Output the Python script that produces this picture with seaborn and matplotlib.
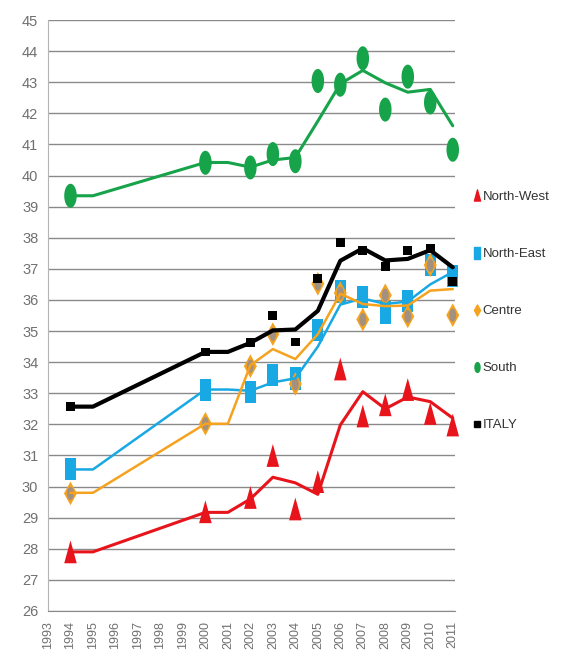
import numpy as np
import pandas as pd
import matplotlib
matplotlib.use("Agg")
import matplotlib.pyplot as plt
import seaborn as sns
from matplotlib.path import Path
from matplotlib.lines import Line2D

# survey years with a value (no data 1995-1999 and 2001)
YEARS = [1994, 2000, 2002, 2003, 2004, 2005, 2006, 2007, 2008, 2009, 2010, 2011]
north_west = [27.9, 29.19, 29.65, 31.0, 29.28, 30.16, 33.78, 32.27, 32.63, 33.12, 32.35, 31.98]
north_east = [30.57, 33.1, 33.05, 33.58, 33.48, 35.03, 36.27, 36.1, 35.6, 35.97, 37.12, 36.77]
centre = [29.78, 32.02, 33.87, 34.9, 33.3, 36.52, 36.22, 35.37, 36.15, 35.47, 37.12, 35.51]
south = [39.35, 40.41, 40.26, 40.69, 40.46, 43.04, 42.92, 43.77, 42.12, 43.18, 42.35, 40.83]
italy = [32.57, 34.33, 34.63, 35.5, 34.65, 36.68, 37.84, 37.58, 37.08, 37.59, 37.66, 36.59]

# moving-average trend lines as drawn in the chart
TREND_YEARS = [1994, 1995, 2000, 2001, 2002, 2003, 2004, 2005, 2006, 2007, 2008, 2009, 2010, 2011]
north_west_trend = [27.9, 27.9, 29.17, 29.17, 29.6, 30.3, 30.12, 29.75, 31.98, 33.05, 32.5, 32.88, 32.73, 32.2]
north_east_trend = [30.55, 30.55, 33.12, 33.12, 33.08, 33.35, 33.48, 34.5, 35.85, 36.05, 35.87, 35.95, 36.5, 36.9]
centre_trend = [29.8, 29.8, 32.02, 32.02, 33.9, 34.42, 34.1, 34.9, 36.2, 35.87, 35.8, 35.82, 36.3, 36.35]
south_trend = [39.35, 39.35, 40.42, 40.42, 40.27, 40.5, 40.58, 41.75, 42.95, 43.38, 42.98, 42.68, 42.77, 41.6]
italy_trend = [32.57, 32.57, 34.33, 34.33, 34.62, 35.02, 35.05, 35.65, 37.26, 37.66, 37.27, 37.32, 37.6, 37.05]

REGIONS = ["North-West", "North-East", "Centre", "South", "ITALY"]
COLORS = {"North-West": "#e8141c", "North-East": "#18a8e4", "Centre": "#f5a21e",
          "South": "#16a349", "ITALY": "#000000"}
LINE_W = {"North-West": 2.2, "North-East": 1.8, "Centre": 1.8, "South": 2.2, "ITALY": 3.0}

points = pd.DataFrame({"year": YEARS * 5,
                       "value": north_west + north_east + centre + south + italy,
                       "region": np.repeat(REGIONS, len(YEARS))})
trends = pd.DataFrame({"year": TREND_YEARS * 5,
                       "value": north_west_trend + north_east_trend + centre_trend
                       + south_trend + italy_trend,
                       "region": np.repeat(REGIONS, len(TREND_YEARS))})

# tall, stretched markers like the original export
t = np.linspace(0, 2 * np.pi, 40)
ELLIPSE = Path(np.column_stack([0.52 * np.cos(t), np.sin(t)]), closed=True)
RECT = Path([(-0.5, -1), (0.5, -1), (0.5, 1), (-0.5, 1), (-0.5, -1)], closed=True)
TRI = Path([(-0.55, -1), (0.55, -1), (0, 1), (-0.55, -1)], closed=True)
DIAMOND = Path([(0, -1), (0.55, 0), (0, 1), (-0.55, 0), (0, -1)], closed=True)
MARKERS = {"North-West": (TRI, 270), "North-East": (RECT, 260), "Centre": (DIAMOND, 290),
           "South": (ELLIPSE, 300), "ITALY": ("s", 40)}

sns.set_style("white")
plt.rcParams["font.family"] = ["Liberation Sans", "DejaVu Sans"]

fig, ax = plt.subplots(figsize=(5.62, 6.70), dpi=100)
fig.subplots_adjust(left=0.0854, right=0.8096, bottom=0.0881, top=0.9701)

for reg in REGIONS:
    mk, size = MARKERS[reg]
    sub = points[points["region"] == reg]
    sns.scatterplot(data=sub, x="year", y="value", marker=mk, s=size,
                    color=COLORS[reg], edgecolor="none", linewidth=0,
                    ax=ax, zorder=3, clip_on=False, legend=False)
    if reg == "Centre":
        sns.scatterplot(data=sub, x="year", y="value", marker=ELLIPSE, s=90,
                        color="#8e8c9a", edgecolor="none", linewidth=0, alpha=0.8,
                        ax=ax, zorder=3, clip_on=False, legend=False)

for reg in REGIONS:
    sns.lineplot(data=trends[trends["region"] == reg], x="year", y="value",
                 color=COLORS[reg], linewidth=LINE_W[reg], ax=ax, zorder=4,
                 legend=False)

ax.set_xlim(1993, 2011.1)
ax.set_ylim(26, 45)
ax.set_xticks(range(1993, 2012))
ax.set_xticklabels([str(y) for y in range(1993, 2012)], rotation=90,
                   fontsize=9, color="#707070")
ax.set_yticks(range(26, 46))
ax.set_yticklabels([str(v) for v in range(26, 46)], fontsize=10.5, color="#707070")
ax.tick_params(axis="both", length=4, width=0.8, color="#a0a0a0", pad=3)
ax.set_xlabel("")
ax.set_ylabel("")

ax.yaxis.grid(True, color="#8a8a8a", linewidth=1.0)
ax.xaxis.grid(False)
ax.set_axisbelow(True)
for side in ["top", "right"]:
    ax.spines[side].set_visible(False)
ax.spines["left"].set_color("#b4b4b4")
ax.spines["bottom"].set_color("#8a8a8a")

handles = [
    Line2D([], [], linestyle="none", marker=TRI, markersize=8, color=COLORS["North-West"]),
    Line2D([], [], linestyle="none", marker=RECT, markersize=8, color=COLORS["North-East"]),
    Line2D([], [], linestyle="none", marker=DIAMOND, markersize=8, color=COLORS["Centre"]),
    Line2D([], [], linestyle="none", marker=ELLIPSE, markersize=7, color=COLORS["South"]),
    Line2D([], [], linestyle="none", marker="s", markersize=4, color=COLORS["ITALY"]),
]
leg = fig.legend(handles, REGIONS, loc="upper left", bbox_to_anchor=(0.832, 0.723),
                 frameon=False, fontsize=9.5, handlelength=0.6, handletextpad=0.15,
                 labelspacing=3.4, borderaxespad=0)
for txt in leg.get_texts():
    txt.set_color("#333333")

plt.savefig("out.png", dpi=100)
plt.close()
